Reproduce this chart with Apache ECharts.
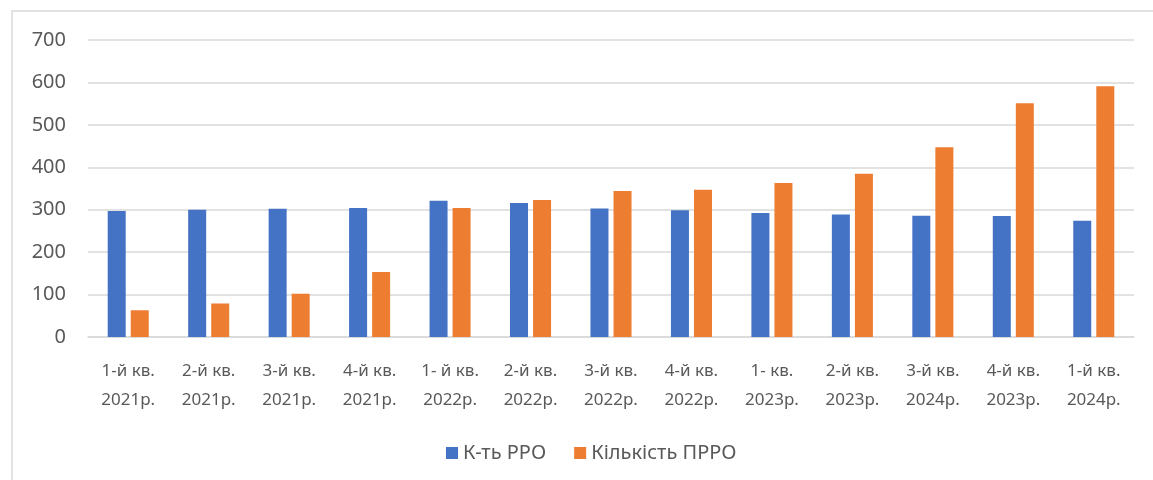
<!DOCTYPE html>
<html>
<head>
<meta charset="utf-8">
<script src="https://cdn.jsdelivr.net/npm/echarts@6/dist/echarts.min.js"></script>
<style>
html,body{margin:0;padding:0;background:#fff;}
#chart{width:1153px;height:480px;}
</style>
</head>
<body>
<div id="chart"></div>
<script>
const categories = [
  '1-й кв.\n2021р.', '2-й кв.\n2021р.', '3-й кв.\n2021р.', '4-й кв.\n2021р.',
  '1- й кв.\n2022р.', '2-й кв.\n2022р.', '3-й кв.\n2022р.', '4-й кв.\n2022р.',
  '1- кв.\n2023р.', '2-й кв.\n2023р.', '3-й кв.\n2024р.', '4-й кв.\n2023р.', '1-й кв.\n2024р.'
];
const seriesNames = ['К-ть РРО', 'Кількість ПРРО'];
const rroValues = [297, 300, 302, 304, 321, 316, 303, 299, 292, 289, 286, 285, 274];
const prroValues = [63, 79, 102, 153, 304, 323, 344, 347, 363, 385, 447, 551, 591];
const yTicks = { min: 0, max: 700, interval: 100 };

const chart = echarts.init(document.getElementById('chart'));
const font = '"Noto Sans", "Open Sans", sans-serif';
chart.setOption({
  animation: false,
  backgroundColor: '#fff',
  textStyle: { fontFamily: font, color: '#595959' },
  graphic: [{
    type: 'rect',
    shape: { x: 12, y: 11, width: 1200, height: 520 },
    style: { fill: 'none', stroke: '#d9d9d9', lineWidth: 1.5 },
    silent: true
  }],
  grid: { left: 88, right: 19, top: 40, bottom: 143, containLabel: false },
  legend: {
    data: seriesNames,
    left: 441,
    top: 438,
    icon: 'rect',
    itemWidth: 12,
    itemHeight: 12,
    itemGap: 28,
    textStyle: { fontFamily: font, fontSize: 20, color: '#595959' }
  },
  xAxis: {
    type: 'category',
    data: categories,
    axisTick: { show: false },
    axisLine: { lineStyle: { color: '#d9d9d9', width: 1.5 } },
    axisLabel: {
      fontFamily: font, fontSize: 17, color: '#595959',
      lineHeight: 29, margin: 20, interval: 0
    }
  },
  yAxis: {
    type: 'value',
    min: yTicks.min, max: yTicks.max, interval: yTicks.interval,
    axisLine: { show: false },
    axisTick: { show: false },
    splitLine: { lineStyle: { color: '#d9d9d9', width: 1.5 } },
    axisLabel: { fontFamily: font, fontSize: 20, color: '#595959', margin: 22 }
  },
  series: [
    {
      name: seriesNames[0], type: 'bar', data: rroValues,
      barWidth: 18, barGap: '28%',
      itemStyle: { color: '#4472C4' }
    },
    {
      name: seriesNames[1], type: 'bar', data: prroValues,
      barWidth: 18, barGap: '28%',
      itemStyle: { color: '#ED7D31' }
    }
  ]
});
</script>
</body>
</html>
